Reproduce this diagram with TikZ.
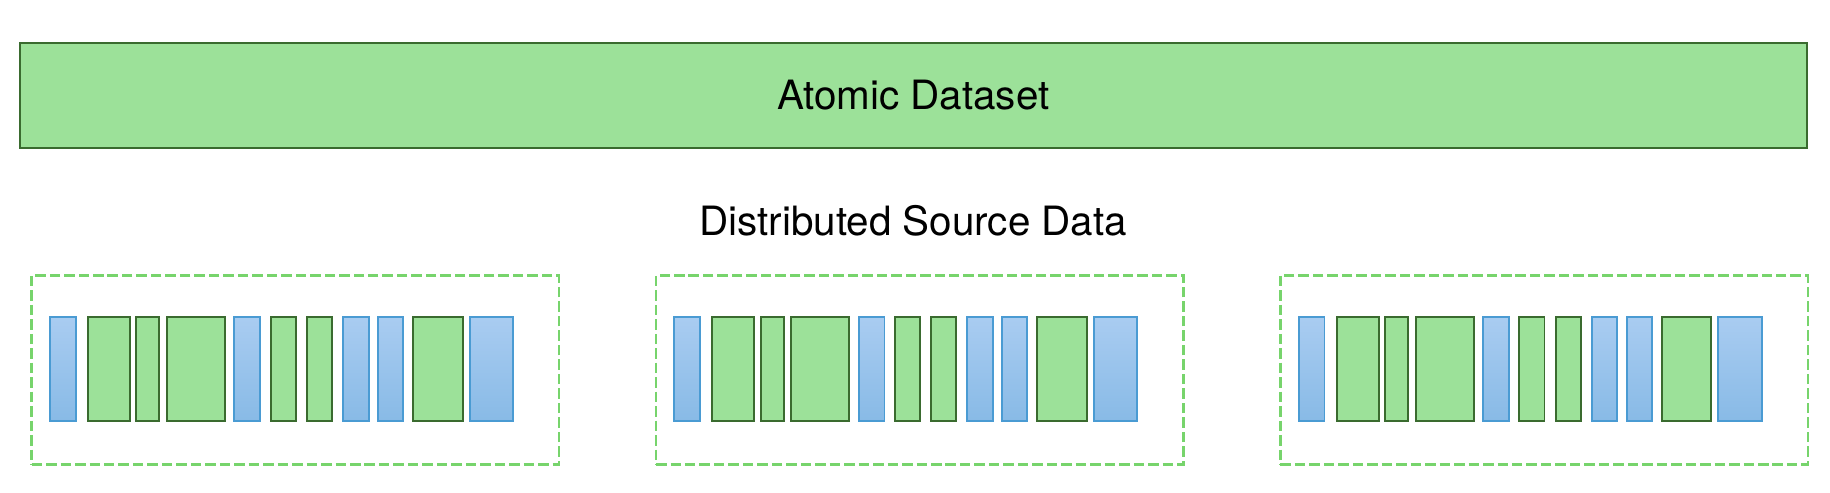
\documentclass[tikz,border=0pt]{standalone}
\usepackage{fontspec}
\setmainfont{TeX Gyre Heros}
\usetikzlibrary{shadings}

\definecolor{cellgreen}{HTML}{9CE199}
\definecolor{darkgreen}{HTML}{3A6B2F}
\definecolor{cellbluetop}{HTML}{A9CCF1}
\definecolor{cellbluebot}{HTML}{88BAE6}
\definecolor{cellblueline}{HTML}{4A9BD3}
\definecolor{dashgreen}{HTML}{77D46C}

\tikzset{
	datasetbox/.style={draw=darkgreen, fill=cellgreen, line width=1pt, inner sep=0pt,
		minimum width=1531*0.5pt, minimum height=90*0.5pt},
	sourcebox/.style={draw=dashgreen, line width=1.1pt, dash pattern=on 4.5pt off 1.7pt,
		inner sep=0pt, minimum width=452*0.5pt, minimum height=162*0.5pt},
	cell/.style={inner sep=0pt, minimum height=89*0.5pt, line width=0.85pt, anchor=west},
	cellg/.style={cell, draw=darkgreen, fill=cellgreen},
	cellb/.style={cell, draw=cellblueline, top color=cellbluetop, bottom color=cellbluebot}
}

\begin{document}
\fontsize{17.3}{20}\selectfont
\begin{tikzpicture}[x=0.5pt, y=-0.5pt]
	\useasboundingbox (0,0) rectangle (1568,421.6);

	\node[datasetbox] (atomic) at (782.5,81.6) {Atomic Dataset};
	\node (srctitle) at (782.4,189.5) {Distributed Source Data};

	\foreach \s/\x in {1/26,2/561,3/1096}{
		\node[sourcebox, anchor=west] (src\s) at (\x,317) {};
		\foreach \c/\o/\w/\t in {1/16/22/b, 2/48.5/36/g, 3/90/19.5/g, 4/116/50/g,
			5/174/22/b, 6/205/21.5/g, 7/236/21.5/g, 8/267/22/b, 9/297/21.5/b,
			10/327/42.5/g, 11/375.5/37/b}{
			\node[cell\t, minimum width=\w*0.5pt] (src\s-\c) at (\x+\o,316.3) {};
		};
	};
\end{tikzpicture}
\end{document}
